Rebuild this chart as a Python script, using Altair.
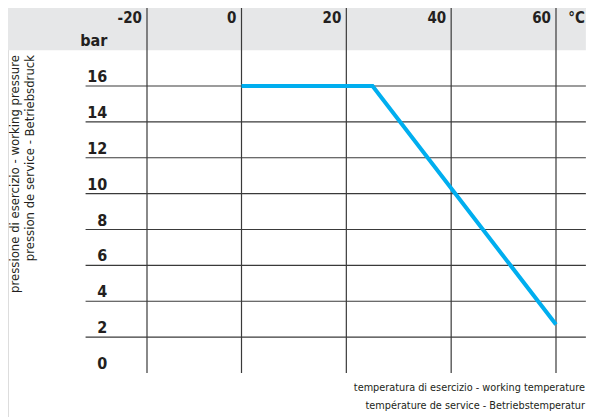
import altair as alt
import pandas as pd

# ---- data ----
curve_temp = [0, 25, 60]
curve_pressure = [16, 16, 2.7]

x_ticks = [-20, 0, 20, 40, 60]
x_tick_labels = ["-20", "0", "20", "40", "60"]
x_unit = "°C"

y_ticks = [2, 4, 6, 8, 10, 12, 14, 16]
y_label_values = [0, 2, 4, 6, 8, 10, 12, 14, 16, 18]
y_label_texts = ["0", "2", "4", "6", "8", "10", "12", "14", "16", "bar"]

y_title = ["pressione di esercizio - working pressure", "pression de service - Betriebsdruck"]
x_title = ["temperatura di esercizio - working temperature", "température de service - Betriebstemperatur"]

# ---- layout constants ----
W, H = 578, 409
X_MIN, X_MAX = -50, 65.7
X_GRID_START = -33
X_LABEL_POS = -28.4
Y_BOTTOM, Y_BAND, Y_TOP = 0, 18, 21
Y_XLABEL = 19.5

FONT = "Liberation Sans Narrow, DejaVu Sans Condensed, Roboto, sans-serif"
GRID = "#3a3a3a"
BLUE = "#00aeef"
BAND = "#e6e7e8"
TEXT = "#231f20"

xs = alt.Scale(domain=[-20, 0, 60], range=[139, 233.5, 548], nice=False, zero=False)
ys = alt.Scale(domain=[0, 16], range=[365, 78], nice=False, zero=False)

band_df = pd.DataFrame({"x": [X_MIN], "x2": [X_MAX], "y": [Y_BAND], "y2": [Y_TOP]})
band = alt.Chart(band_df).mark_rect(color=BAND).encode(
    x=alt.X("x:Q", scale=xs, axis=None),
    x2="x2:Q",
    y=alt.Y("y:Q", scale=ys, axis=None),
    y2="y2:Q",
)

vdf = pd.DataFrame({"x": x_ticks, "y": [Y_BOTTOM] * len(x_ticks), "y2": [Y_TOP] * len(x_ticks)})
vgrid = alt.Chart(vdf).mark_rule(color=GRID, strokeWidth=1.2).encode(
    x=alt.X("x:Q", scale=xs, axis=None),
    y=alt.Y("y:Q", scale=ys, axis=None),
    y2="y2:Q",
)

hdf = pd.DataFrame({"y": y_ticks, "x": [X_GRID_START] * len(y_ticks), "x2": [X_MAX] * len(y_ticks)})
hgrid = alt.Chart(hdf).mark_rule(color=GRID, strokeWidth=1.2).encode(
    y=alt.Y("y:Q", scale=ys, axis=None),
    x=alt.X("x:Q", scale=xs, axis=None),
    x2="x2:Q",
)

cdf = pd.DataFrame({"t": curve_temp, "p": curve_pressure})
curve = alt.Chart(cdf).mark_line(color=BLUE, strokeWidth=4, strokeCap="butt", strokeJoin="miter").encode(
    x=alt.X("t:Q", scale=xs, axis=None),
    y=alt.Y("p:Q", scale=ys, axis=None),
)

xl_df = pd.DataFrame({"x": x_ticks, "y": [Y_XLABEL] * len(x_ticks), "t": x_tick_labels})
xlabels = alt.Chart(xl_df).mark_text(align="right", baseline="alphabetic", dx=-5,
                                     font=FONT, fontSize=15, fontWeight="bold", color=TEXT).encode(
    x=alt.X("x:Q", scale=xs, axis=None),
    y=alt.Y("y:Q", scale=ys, axis=None),
    text="t:N",
)

unit_df = pd.DataFrame({"x": [X_MAX], "y": [Y_XLABEL], "t": [x_unit]})
unit = alt.Chart(unit_df).mark_text(align="right", baseline="alphabetic", dx=-1,
                                    font=FONT, fontSize=15, fontWeight="bold", color=TEXT).encode(
    x=alt.X("x:Q", scale=xs, axis=None),
    y=alt.Y("y:Q", scale=ys, axis=None),
    text="t:N",
)

yl_df = pd.DataFrame({"y": y_label_values, "x": [X_LABEL_POS] * len(y_label_values), "t": y_label_texts})
ylabels = alt.Chart(yl_df).mark_text(align="right", baseline="alphabetic", dy=-4,
                                     font=FONT, fontSize=16, fontWeight="bold", color=TEXT).encode(
    x=alt.X("x:Q", scale=xs, axis=None),
    y=alt.Y("y:Q", scale=ys, axis=None),
    text="t:N",
)

yt1 = alt.Chart(pd.DataFrame({"t": [y_title[0]]})).mark_text(
    align="right", baseline="middle", angle=270, font=FONT, fontSize=13, color=TEXT
).encode(x=alt.value(7), y=alt.value(47), text="t:N")
yt2 = alt.Chart(pd.DataFrame({"t": [y_title[1]]})).mark_text(
    align="right", baseline="middle", angle=270, font=FONT, fontSize=13, color=TEXT
).encode(x=alt.value(22), y=alt.value(47), text="t:N")

xt1 = alt.Chart(pd.DataFrame({"t": [x_title[0]]})).mark_text(
    align="right", baseline="alphabetic", font=FONT, fontSize=10.8, color=TEXT
).encode(x=alt.value(577), y=alt.value(383), text="t:N")
xt2 = alt.Chart(pd.DataFrame({"t": [x_title[1]]})).mark_text(
    align="right", baseline="alphabetic", font=FONT, fontSize=10.8, color=TEXT
).encode(x=alt.value(577), y=alt.value(401), text="t:N")

chart = alt.layer(band, vgrid, hgrid, curve, xlabels, unit, ylabels, yt1, yt2, xt1, xt2).properties(
    width=W, height=H, autosize=alt.AutoSizeParams(type="none"), padding=0
).configure_view(stroke=None).configure(background="white")

chart.save("out.html", embed_options={"renderer": "svg", "actions": False})
